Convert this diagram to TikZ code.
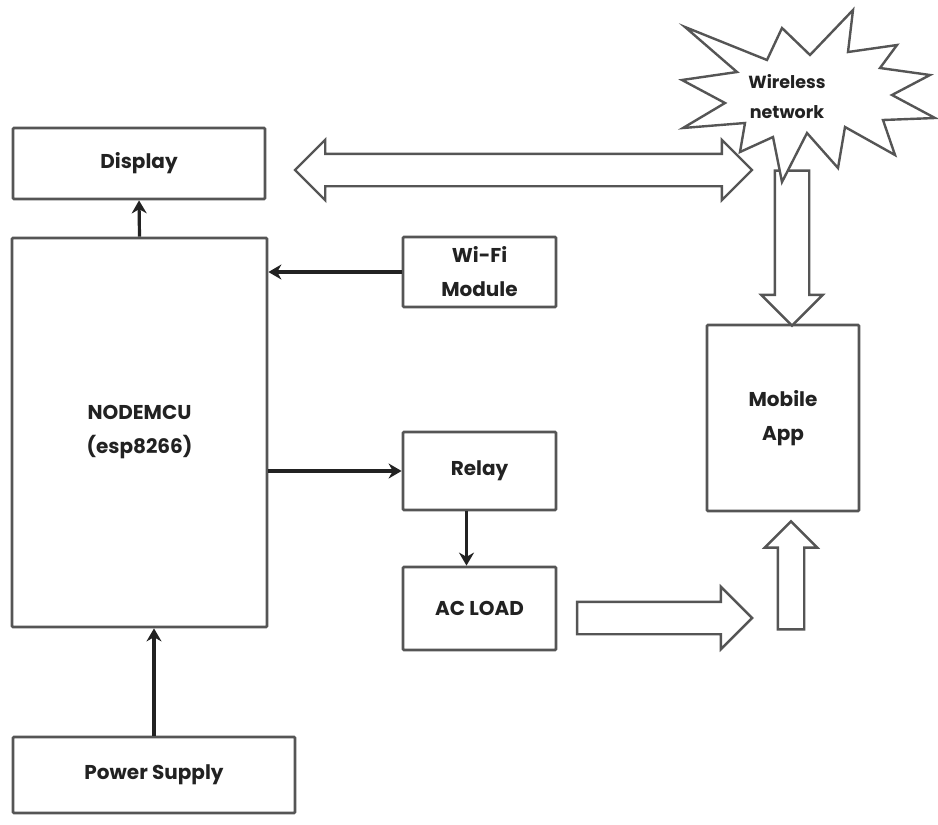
\documentclass[tikz,border=0pt]{standalone}
\usepackage{fontspec}
\setmainfont{Poppins}
\usetikzlibrary{arrows.meta,shapes.arrows}
\definecolor{edge}{HTML}{555555}
\definecolor{ink}{HTML}{222222}
\tikzset{
    block/.style={draw=edge, line width=2.8pt, rounded corners=1pt, align=center,
        text=ink, font=\fontsize{20}{34}\selectfont\bfseries},
    link/.style={draw=ink, line width=3.2pt, -{Stealth[length=13pt,width=15pt]}},
    fat/.style={draw=edge, line width=2.4pt, fill=white, inner xsep=0pt, line join=miter},
}
\begin{document}
\begin{tikzpicture}[x=1pt, y=-1pt]
    \useasboundingbox (0,0) rectangle (938,825);
    % blocks
    \node[block, minimum width=252pt, minimum height=71pt] (display) at (139,163.5) {Display};
    \node[block, minimum width=255pt, minimum height=389pt] (nodemcu) at (139.5,432.5) {NODEMCU\\(esp8266)};
    \node[block, minimum width=153pt, minimum height=70pt] (wifi) at (479.5,272) {Wi-Fi\\Module};
    \node[block, minimum width=153pt, minimum height=78pt] (relay) at (479.5,471) {Relay};
    \node[block, minimum width=153pt, minimum height=83pt] (acload) at (479.5,608.5) {AC LOAD};
    \node[block, minimum width=282pt, minimum height=76pt] (power) at (154,775) {Power Supply};
    \node[block, minimum width=152pt, minimum height=186pt] (mobile) at (783,418) {Mobile\\App};
    % links
    \draw[link] (nodemcu.north) -- (display.south);
    \draw[link] (wifi.west) -- (wifi.west -| nodemcu.east);
    \draw[link] (nodemcu.east |- relay.west) -- (relay.west);
    \draw[link] ([xshift=-13pt]relay.south) -- ([xshift=-13pt]acload.north);
    \draw[link] (power.north) -- (power.north |- nodemcu.south);
    % hollow arrows
    \node[fat, double arrow, inner ysep=15pt, double arrow head extend=14pt,
        minimum height=457pt] (radio) at (523.5,170) {};
    \node[fat, single arrow, inner ysep=16pt, single arrow head extend=13.5pt,
        minimum height=155pt, rotate=-90] (downlink) at (792,239.5) {};
    \node[fat, single arrow, inner ysep=15pt, single arrow head extend=15pt,
        minimum height=175pt] (loadout) at (656.5,618) {};
    \node[fat, single arrow, inner ysep=12pt, single arrow head extend=13pt,
        minimum height=108pt, rotate=90] (uplink) at (791,582) {};
    % wireless cloud
    \draw[fat] (685,27) -- (767,60) -- (782,28) -- (810,55) -- (853,10)
        -- (848,52) -- (897,45) -- (880,68) -- (930,75) -- (892,95) -- (935,118)
        -- (883,120) -- (895,155) -- (845,127) -- (838,168) -- (807,133) -- (782,182)
        -- (773,137) -- (740,152) -- (745,123) -- (683,128) -- (725,103) -- (682,80)
        -- (737,72) -- cycle;
    \node[text=ink, align=center, font=\fontsize{17.5}{30}\selectfont\bfseries] (wireless)
        at (787,97) {Wireless\\network};
\end{tikzpicture}
\end{document}
